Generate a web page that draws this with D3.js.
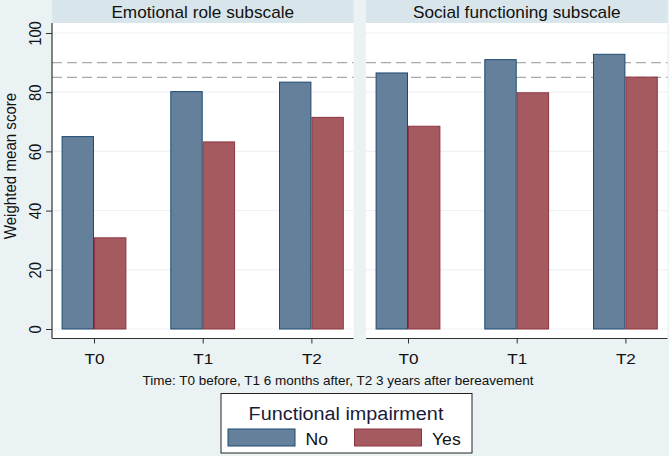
<!DOCTYPE html>
<html>
<head>
<meta charset="utf-8">
<script src="https://cdn.jsdelivr.net/npm/d3@7"></script>
<style>
  html, body { margin: 0; padding: 0; background: #eaf2f3; }
  svg { display: block; font-family: "Liberation Sans", Arial, sans-serif; }
</style>
</head>
<body>
<svg id="chart" width="669" height="456"></svg>
<script>
// ---- data ----
const panels = ["Emotional role subscale", "Social functioning subscale"];
const times = ["T0", "T1", "T2"];
const emotionalNo  = [65.0, 80.2, 83.4];
const emotionalYes = [30.8, 63.2, 71.5];
const socialNo     = [86.5, 91.0, 92.8];
const socialYes    = [68.5, 79.8, 85.1];
const refLines = [85, 90];
const yTicks = [0, 20, 40, 60, 80, 100];
const groups = ["No", "Yes"];
const legendTitle = "Functional impairment";
const yTitle = "Weighted mean score";
const xTitle = "Time: T0 before, T1 6 months after, T2 3 years after bereavement";

const panelData = [
  { title: panels[0], No: emotionalNo, Yes: emotionalYes },
  { title: panels[1], No: socialNo, Yes: socialYes }
];

// ---- style ----
const bg = "#eaf2f3", stripFill = "#d8e5eb", gridCol = "#edf2f4";
const fills = { No: "#65809a", Yes: "#a55a60" };
const strokes = { No: "#1d4a72", Yes: "#8e3540" };
const txt = "#111111";
const FF = "'Liberation Sans', Arial, sans-serif";

const svg = d3.select("#chart");
svg.append("rect").attr("width", 669).attr("height", 456).attr("fill", bg);

// text helper: horizontal stretch factor sx, optional rotation
function addText(parent, x, y, str, size, sx, anchor, rot) {
  return parent.append("text")
    .attr("transform", `translate(${x},${y}) scale(${sx},1)` + (rot ? ` rotate(${rot})` : ""))
    .attr("text-anchor", anchor || "start")
    .attr("font-size", size + "px")
    .attr("font-family", FF)
    .attr("fill", txt)
    .text(str);
}

const panelX = [52, 366];
const panelW = 301.5;
const stripTop = 0, stripBottom = 23;
const plotBottom = 338.5;

const y = d3.scaleLinear().domain([0, 100]).range([329, 33]);
const x = d3.scalePoint().domain(times).range([42, 259.4]);
const barW = 32.4;
const xg = d3.scaleBand().domain(groups).range([-barW, barW]);

panelData.forEach((pd, pi) => {
  const g = svg.append("g").attr("transform", `translate(${panelX[pi]},0)`);
  // strip
  g.append("rect").attr("x", 0).attr("y", stripTop).attr("width", panelW).attr("height", stripBottom - stripTop).attr("fill", stripFill);
  addText(g, panelW / 2, 17.5, pd.title, 15.8, 1.09, "middle");
  // plot area
  g.append("rect").attr("x", 0).attr("y", stripBottom).attr("width", panelW).attr("height", plotBottom - stripBottom).attr("fill", "#ffffff");
  // gridlines
  g.selectAll("line.grid").data(yTicks).enter().append("line")
    .attr("x1", 0).attr("x2", panelW).attr("y1", d => y(d)).attr("y2", d => y(d))
    .attr("stroke", gridCol).attr("stroke-width", 1.2);
  // reference lines
  g.selectAll("line.ref").data(refLines).enter().append("line")
    .attr("x1", 0).attr("x2", panelW).attr("y1", d => y(d)).attr("y2", d => y(d))
    .attr("stroke", "#a8a8a8").attr("stroke-width", 1.4).attr("stroke-dasharray", "10,5");
  // bars
  groups.forEach(grp => {
    g.selectAll("rect.bar" + grp).data(times).enter().append("rect")
      .attr("x", (t) => x(t) + xg(grp) + 0.5)
      .attr("y", (t, i) => y(pd[grp][i]))
      .attr("width", barW - 1)
      .attr("height", (t, i) => y(0) - y(pd[grp][i]))
      .attr("fill", fills[grp]).attr("stroke", strokes[grp]).attr("stroke-width", 1);
  });
  // x axis
  const xAxis = d3.axisBottom(x).tickSize(5).tickFormat("");
  const ax = g.append("g").attr("transform", `translate(0,${plotBottom})`).call(xAxis);
  ax.select(".domain").attr("d", `M0,0H${panelW}`).attr("stroke", "#333").attr("stroke-width", 1.2);
  ax.selectAll(".tick line").attr("stroke", "#333");
  ax.selectAll(".tick").each(function (t) {
    addText(d3.select(this), 0, 363.5 - plotBottom, t, 15.3, 1.12, "middle");
  });
});

// y axis (left panel only)
const yAxis = d3.axisLeft(y).tickValues(yTicks).tickSize(6).tickFormat("");
const ya = svg.append("g").attr("transform", `translate(${panelX[0]},0)`).call(yAxis);
ya.select(".domain").attr("d", `M0,${stripBottom}V${plotBottom}`).attr("stroke", "#333").attr("stroke-width", 1.2);
ya.selectAll(".tick line").attr("stroke", "#333");
ya.selectAll(".tick").each(function (v) {
  addText(d3.select(this), -11.5, 0, String(v), 14.8, 1.12, "middle", -90);
});

// y title
addText(svg, 15.5, 166, yTitle, 15.1, 1.06, "middle", -90);

// x title
addText(svg, 338, 384.5, xTitle, 13.5, 1, "middle");

// legend
const lg = svg.append("g");
lg.append("rect").attr("x", 221).attr("y", 393.5).attr("width", 251).attr("height", 59.5)
  .attr("fill", "#ffffff").attr("stroke", "#222").attr("stroke-width", 1);
addText(lg, 346, 420, legendTitle, 18.6, 1.065, "middle").attr("fill", "#1a1a3a");
const keyX = { No: 228, Yes: 354.5 };
groups.forEach(grp => {
  lg.append("rect").attr("x", keyX[grp]).attr("y", 429).attr("width", 67).attr("height", 17)
    .attr("fill", fills[grp]).attr("stroke", strokes[grp]).attr("stroke-width", 1);
  addText(lg, keyX[grp] + 77.5, 444.7, grp, 16, 1.1, "start");
});
</script>
</body>
</html>
